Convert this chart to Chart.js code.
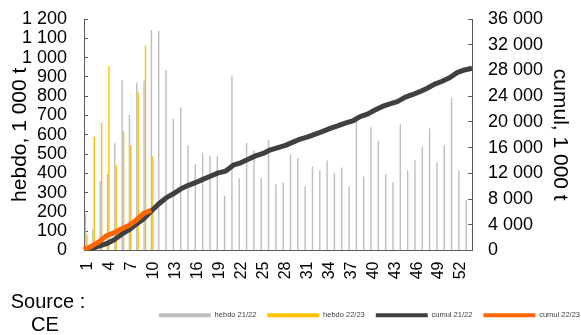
<!DOCTYPE html>
<html>
<head>
<meta charset="utf-8">
<script src="https://cdn.jsdelivr.net/npm/chart.js@4"></script>
<style>
  html, body { margin: 0; padding: 0; background: #fff; }
  #wrap { position: relative; width: 581px; height: 335px; }
  .src {
    position: absolute;
    width: 100px;
    text-align: center;
    font-family: "Liberation Sans", Arial, sans-serif;
    font-size: 20px;
    color: #000;
  }
</style>
</head>
<body>
<div id="wrap">
  <canvas id="chart" width="581" height="335" style="width:581px;height:335px"></canvas>
  <div class="src" style="left:-2px; top:290px;">Source :</div>
  <div class="src" style="left:-5px; top:313px;">CE</div>
</div>
<script>
// Weeks of the campaign
const weeks = ["1", "2", "3", "4", "5", "6", "7", "8", "9", "10",
  "11", "12", "13", "14", "15", "16", "17", "18", "19", "20",
  "21", "22", "23", "24", "25", "26", "27", "28", "29", "30",
  "31", "32", "33", "34", "35", "36", "37", "38", "39", "40",
  "41", "42", "43", "44", "45", "46", "47", "48", "49", "50",
  "51", "52", "53"];

// Weekly volumes, 1 000 t
const hebdo2122 = [190, 113, 360, 396, 556, 883, 703, 871, 881, 1143,
  1138, 935, 684, 743, 544, 447, 507, 488, 488, 284,
  906, 374, 557, 519, 376, 571, 343, 353, 500, 478,
  334, 435, 415, 466, 400, 430, 332, 674, 384, 639,
  569, 395, 353, 655, 416, 468, 539, 633, 458, 545,
  790, 416, 262];
const hebdo2223 = [83, 589, 661, 956, 443, 618, 547, 819, 1063, 487];

// Cumulated volumes, 1 000 t
const cumul2122 = [190, 303, 663, 1059, 1615, 2498, 3201, 4072, 4953, 6096,
  7234, 8169, 8853, 9596, 10140, 10587, 11094, 11582, 12070, 12354,
  13260, 13634, 14191, 14710, 15086, 15657, 16000, 16353, 16853, 17331,
  17665, 18100, 18515, 18981, 19381, 19811, 20143, 20817, 21201, 21840,
  22409, 22804, 23157, 23812, 24228, 24696, 25235, 25868, 26326, 26871,
  27661, 28077, 28339];
const cumul2223 = [83, 672, 1333, 2289, 2732, 3350, 3897, 4716, 5779, 6266];

const FONT = '"Liberation Sans", Arial, sans-serif';
const AXIS = "#595959";

// "1200" -> "1 200"
const fmt = (v) => String(v).replace(/\B(?=(\d{3})+(?!\d))/g, " ");

// push the legend row a little to the right, as in the original
const legendShift = {
  id: "legendShift",
  afterLayout(chart) {
    chart.legend.left += 10;
    chart.legend.right += 10;
  },
};

// fixed width for a y axis, and no extra room above/below for its labels
const fitY = (w) => (s) => {
  s.width = w;
  s.paddingTop = 0;
  s.paddingBottom = 0;
};

const ctx = document.getElementById("chart").getContext("2d");
new Chart(ctx, {
  type: "bar",
  plugins: [legendShift],
  data: {
    labels: weeks,
    datasets: [
      {
        type: "bar",
        label: "hebdo 21/22",
        data: hebdo2122,
        backgroundColor: "#bfbfbf",
        xAxisID: "x",
        yAxisID: "y",
        order: 2,
        categoryPercentage: 0.78,
        barPercentage: 1.0,
      },
      {
        type: "bar",
        label: "hebdo 22/23",
        data: hebdo2223,
        backgroundColor: "#ffc000",
        xAxisID: "x",
        yAxisID: "y",
        order: 3,
        categoryPercentage: 0.78,
        barPercentage: 1.0,
      },
      {
        type: "line",
        label: "cumul 21/22",
        data: cumul2122,
        borderColor: "#404040",
        backgroundColor: "#404040",
        borderWidth: 5,
        borderJoinStyle: "round",
        pointRadius: 0,
        xAxisID: "x2",
        yAxisID: "y2",
        order: 1,
      },
      {
        type: "line",
        label: "cumul 22/23",
        data: cumul2223,
        borderColor: "#ff6600",
        backgroundColor: "#ff6600",
        borderWidth: 5,
        borderJoinStyle: "round",
        pointRadius: 0,
        xAxisID: "x2",
        yAxisID: "y2",
        order: 0,
      },
    ],
  },
  options: {
    responsive: false,
    animation: false,
    layout: { padding: { top: 19, bottom: 6, left: 0, right: 0 } },
    scales: {
      x: {
        type: "category",
        offset: true,
        grid: { display: true, drawOnChartArea: false, drawTicks: false, color: AXIS },
        border: { color: AXIS, width: 1 },
        ticks: {
          autoSkip: false,
          minRotation: 90,
          maxRotation: 90,
          padding: 11,
          color: "#000",
          font: { size: 16, family: FONT },
          callback: (v, i) => (i % 3 === 0 ? weeks[i] : ""),
        },
        afterFit: (s) => { s.height = 50; },
      },
      x2: {
        type: "category",
        offset: false,
        display: false,
      },
      y: {
        position: "left",
        min: 0,
        max: 1200,
        grid: { drawOnChartArea: false, tickLength: -4, color: AXIS },
        border: { color: AXIS, width: 1 },
        ticks: {
          stepSize: 100,
          autoSkip: false,
          padding: 21,
          color: "#000",
          font: { size: 18, family: FONT },
          callback: fmt,
        },
        title: {
          display: true,
          text: "hebdo, 1 000 t",
          color: "#000",
          font: { size: 21, family: FONT },
          padding: { top: 8, bottom: 0 },
        },
        afterFit: fitY(84),
      },
      y2: {
        position: "right",
        min: 0,
        max: 36000,
        grid: { drawOnChartArea: false, tickLength: -4, color: AXIS },
        border: { color: AXIS, width: 1 },
        ticks: {
          stepSize: 4000,
          autoSkip: false,
          padding: 20,
          color: "#000",
          font: { size: 18, family: FONT },
          callback: fmt,
        },
        title: {
          display: true,
          text: "cumul, 1 000 t",
          color: "#000",
          font: { size: 21, family: FONT },
          padding: { top: 9, bottom: 0 },
        },
        afterFit: fitY(109),
      },
    },
    plugins: {
      tooltip: { enabled: false },
      legend: {
        position: "bottom",
        align: "end",
        labels: {
          usePointStyle: true,
          pointStyleWidth: 52,
          boxHeight: 4,
          padding: 11,
          color: "#404040",
          font: { size: 7.5, family: FONT },
          generateLabels: (chart) =>
            chart.data.datasets.map((ds, i) => ({
              text: ds.label,
              fillStyle: ds.type === "line" ? ds.borderColor : ds.backgroundColor,
              strokeStyle: ds.type === "line" ? ds.borderColor : ds.backgroundColor,
              lineWidth: 4,
              lineCap: "butt",
              pointStyle: "line",
              hidden: false,
              datasetIndex: i,
              fontColor: "#404040",
            })),
        },
      },
    },
  },
});
</script>
</body>
</html>
